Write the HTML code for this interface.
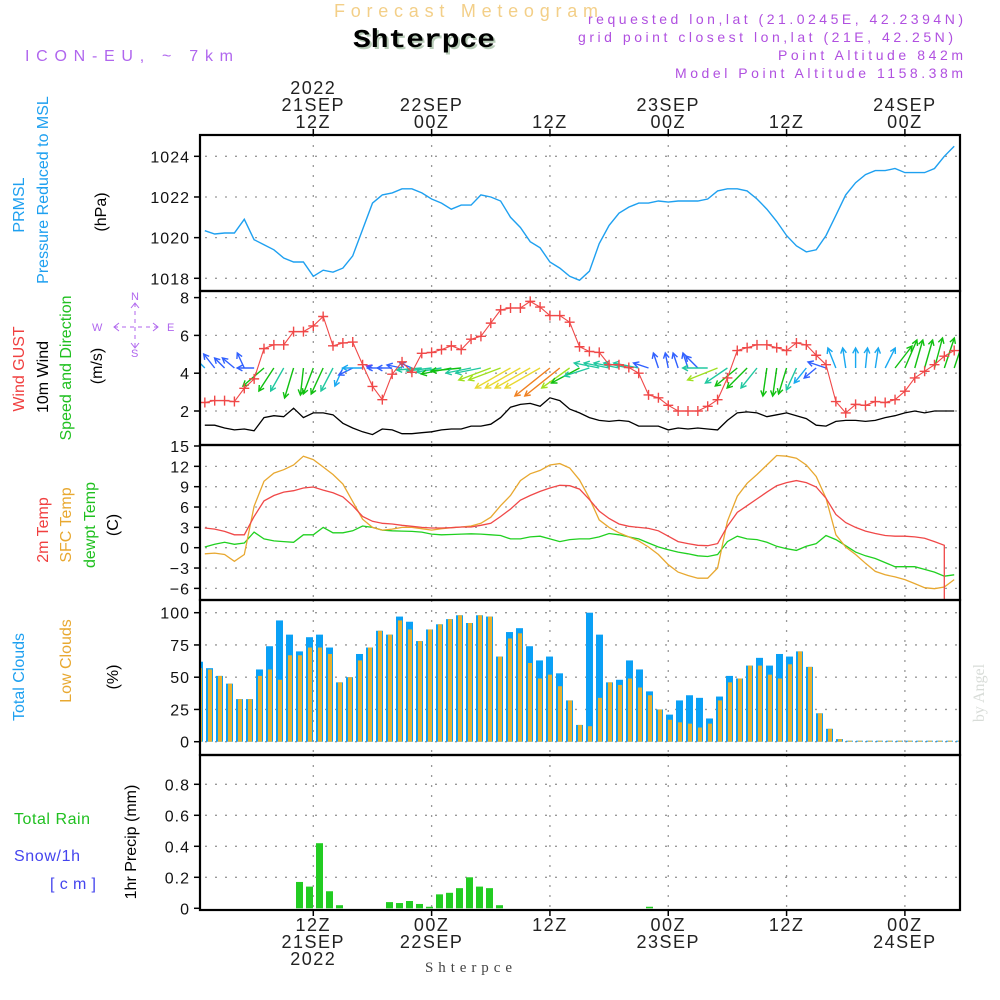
<!DOCTYPE html>
<html><head><meta charset="utf-8"><style>
html,body{margin:0;padding:0;background:#fff;}
svg{display:block;font-family:"Liberation Sans",sans-serif;}
</style></head><body>
<svg id="chart" width="1000" height="1000" viewBox="0 0 1000 1000" xmlns="http://www.w3.org/2000/svg">
<!-- header -->
<text x="334" y="17" font-size="18" fill="#f3cf88" textLength="264" lengthAdjust="spacing">Forecast Meteogram</text>
<text x="355" y="49" font-size="26" font-weight="bold" font-family="Liberation Mono,monospace" fill="#b8ccb8" textLength="142" lengthAdjust="spacingAndGlyphs">Shterpce</text>
<text x="353" y="47" font-size="26" font-weight="bold" font-family="Liberation Mono,monospace" fill="#000" textLength="142" lengthAdjust="spacingAndGlyphs">Shterpce</text>
<text x="25" y="61" font-size="16" fill="#b066ee" textLength="208" lengthAdjust="spacing">ICON-EU, ~ 7km</text>
<text x="588" y="24" font-size="14" fill="#b050e0" textLength="375" lengthAdjust="spacing">requested lon,lat (21.0245E, 42.2394N)</text>
<text x="578" y="42" font-size="14" fill="#b050e0" textLength="375" lengthAdjust="spacing">grid point closest lon,lat (21E, 42.25N)</text>
<text x="778" y="60" font-size="14" fill="#b050e0" textLength="185" lengthAdjust="spacing">Point Altitude 842m</text>
<text x="675" y="78" font-size="14" fill="#b050e0" textLength="288" lengthAdjust="spacing">Model Point Altitude 1158.38m</text>
<text transform="translate(984,693) rotate(-90)" text-anchor="middle" font-size="16" font-family="Liberation Serif,serif" fill="#d8dcd8">by Angel</text>
<text x="425" y="972" font-size="15" font-family="Liberation Serif,serif" fill="#444" textLength="87" lengthAdjust="spacing">Shterpce</text>

<!-- left labels -->
<g font-size="16">
<text transform="translate(24,205) rotate(-90)" text-anchor="middle" fill="#1ea0f0">PRMSL</text>
<text transform="translate(48,190) rotate(-90)" text-anchor="middle" fill="#1ea0f0">Pressure Reduced to MSL</text>
<text transform="translate(106,212) rotate(-90)" text-anchor="middle" fill="#000">(hPa)</text>
<text transform="translate(24,369) rotate(-90)" text-anchor="middle" fill="#f04040">Wind GUST</text>
<text transform="translate(48,377) rotate(-90)" text-anchor="middle" fill="#000">10m Wind</text>
<text transform="translate(71,368) rotate(-90)" text-anchor="middle" fill="#20c020">Speed and Direction</text>
<text transform="translate(102,366) rotate(-90)" text-anchor="middle" fill="#000">(m/s)</text>
<text transform="translate(48,530) rotate(-90)" text-anchor="middle" fill="#f04040">2m Temp</text>
<text transform="translate(71,525) rotate(-90)" text-anchor="middle" fill="#e8a830">SFC Temp</text>
<text transform="translate(95,525) rotate(-90)" text-anchor="middle" fill="#20c020">dewpt Temp</text>
<text transform="translate(118,525) rotate(-90)" text-anchor="middle" fill="#000">(C)</text>
<text transform="translate(24,677) rotate(-90)" text-anchor="middle" fill="#1ea0f0">Total Clouds</text>
<text transform="translate(71,661) rotate(-90)" text-anchor="middle" fill="#e8a830">Low Clouds</text>
<text transform="translate(118,677) rotate(-90)" text-anchor="middle" fill="#000">(%)</text>
<text x="14" y="824" fill="#20c020" textLength="76" lengthAdjust="spacing">Total  Rain</text>
<text x="14" y="861" fill="#4444ee" textLength="66" lengthAdjust="spacing">Snow/1h</text>
<text x="50" y="889" fill="#4444ee" textLength="46" lengthAdjust="spacing">[cm]</text>
<text transform="translate(136,842) rotate(-90)" text-anchor="middle" fill="#000">1hr Precip (mm)</text>
</g>
<!-- compass -->
<g fill="#b066ee" stroke="#b066ee" font-size="11">
<text x="131" y="300" stroke="none">N</text>
<text x="131" y="357" stroke="none">S</text>
<text x="92" y="331" stroke="none">W</text>
<text x="167" y="331" stroke="none">E</text>
<line x1="114" y1="327" x2="158" y2="327" stroke-dasharray="4 4" stroke-width="1"/>
<line x1="135" y1="303" x2="135" y2="348" stroke-dasharray="4 4" stroke-width="1"/>
<polyline points="119,323 114,327 119,331" fill="none"/>
<polyline points="153,323 158,327 153,331" fill="none"/>
<polyline points="131,308 135,303 139,308" fill="none"/>
<polyline points="131,343 135,348 139,343" fill="none"/>
</g>
<g id="plots"></g>
</svg>
<script>
// ---------- DATA (hourly, h = 1..77) ----------
const timeTicksHours = [12, 24, 36, 48, 60, 72];
const timeTickTop = [["2022","21SEP","12Z"],["22SEP","00Z"],["12Z"],["23SEP","00Z"],["12Z"],["24SEP","00Z"]];
const timeTickBottom = [["12Z","21SEP","2022"],["00Z","22SEP"],["12Z"],["00Z","23SEP"],["12Z"],["00Z","24SEP"]];
const pressureTicks = [1018, 1020, 1022, 1024];
const windTicks = [2, 4, 6, 8];
const tempTicks = [-6, -3, 0, 3, 6, 9, 12, 15];
const cloudTicks = [0, 25, 50, 75, 100];
const precipTicks = [0, 0.2, 0.4, 0.6, 0.8];

const pressure = [1020.34,1020.18,1020.23,1020.23,1020.9,1019.9,1019.65,1019.4,1019.0,1018.8,
1018.8,1018.1,1018.4,1018.3,1018.5,1019.1,1020.4,1021.7,1022.1,1022.2,
1022.4,1022.4,1022.2,1021.9,1021.7,1021.4,1021.6,1021.6,1022.1,1022.0,
1021.8,1021.0,1020.5,1019.8,1019.5,1018.8,1018.5,1018.1,1017.9,1018.35,
1019.7,1020.6,1021.2,1021.5,1021.7,1021.7,1021.8,1021.75,1021.8,1021.8,
1021.8,1021.9,1022.3,1022.4,1022.4,1022.3,1021.9,1021.4,1020.8,1020.1,
1019.6,1019.3,1019.4,1020.1,1021.1,1022.1,1022.7,1023.1,1023.3,1023.3,
1023.4,1023.2,1023.2,1023.2,1023.4,1024.0,1024.5];

const windGust = [2.45,2.55,2.55,2.5,3.2,3.7,5.3,5.5,5.5,6.2,
6.2,6.5,7.0,5.45,5.6,5.65,4.45,3.3,2.6,3.95,
4.6,4.05,5.05,5.1,5.25,5.45,5.25,5.8,5.95,6.65,
7.35,7.45,7.45,7.8,7.5,7.05,7.05,6.7,5.4,5.15,
5.1,4.45,4.45,4.3,4.0,2.85,2.7,2.3,2.0,2.0,
2.0,2.25,2.6,3.75,5.2,5.35,5.5,5.5,5.35,5.2,
5.6,5.5,4.95,4.45,2.5,1.9,2.35,2.3,2.5,2.45,
2.6,3.05,3.75,4.1,4.45,4.9,5.2];

const wind10m = [1.25,1.25,1.1,1.0,1.05,0.95,1.65,1.75,1.7,2.15,
1.65,1.9,1.9,1.8,1.35,1.1,0.9,0.75,1.05,1.0,
0.8,0.8,0.85,0.9,1.0,1.05,1.05,1.2,1.2,1.3,
1.65,2.2,2.35,2.4,2.25,2.7,2.55,2.1,1.9,1.65,
1.5,1.45,1.5,1.45,1.2,1.2,1.2,1.0,1.1,1.05,
1.1,1.05,1.0,1.5,1.9,1.95,1.9,1.7,1.8,1.9,
1.75,1.6,1.25,1.2,1.45,1.5,1.5,1.45,1.5,1.65,
1.75,1.9,2.0,1.9,2.0,2.0,2.0];

// wind arrow components (east, north)
const windU = [-15,-11,-10,-12,-7,-17,-21,-15,-13,-9,
-3,-10,-12,-12,-8,-14,-20,-6,-15,-15,
-15,-12,-25,-25,-25,-30,-30,-25,-25,-32,
-32,-35,-35,-35,-35,-35,-35,-28,-28,-25,
-25,-25,-25,-25,-25,-15,-5,-3,-5,-5,
-12,-25,-30,-22,-22,-20,-16,-4,-4,-8,
-10,-12,-12,-18,-8,-3,0,2,3,10,
17,12,8,8,8,10,10];
const windV = [15,14,10,10,15,0,-18,-23,-23,-30,
-27,-26,-26,-23,-18,-7,0,2,0,0,
3,5,-2,-3,-4,-6,-3,-5,-5,-12,
-12,-20,-20,-20,-20,-28,-28,-20,-15,-8,
5,5,5,5,5,5,15,15,15,15,
12,0,-12,-15,-18,-20,-20,-28,-28,-26,
-22,-15,-10,6,20,20,20,20,20,20,
22,28,28,28,30,30,30];

const temp2m = [2.9,2.75,2.4,1.9,1.9,4.6,6.9,7.7,8.2,8.4,
8.8,8.95,8.5,8.1,7.5,6.2,4.6,3.9,3.6,3.5,
3.3,3.15,3.0,2.9,2.9,2.95,3.05,3.05,3.3,3.6,
4.6,5.7,7.0,7.7,8.3,8.8,9.2,9.15,8.65,7.1,
5.4,4.3,3.5,3.15,3.0,2.85,2.5,1.7,0.9,0.6,
0.35,0.3,0.6,3.15,5.2,6.2,7.2,8.2,9.15,9.6,
9.9,9.6,8.95,7.3,4.9,3.7,3.0,2.45,2.1,1.8,
1.7,1.7,1.6,1.4,0.9,0.35];
const tempSfc = [-0.9,-0.8,-1.0,-2.0,-1.0,6.1,9.8,11.0,11.5,12.2,
13.5,13.0,11.9,10.8,9.4,6.8,4.2,3.0,2.6,2.75,
3.0,3.0,2.8,2.6,2.8,2.95,3.05,3.2,3.6,4.5,
6.2,7.7,9.9,10.9,11.4,12.2,12.4,11.75,10.0,7.3,
4.1,3.0,2.2,1.6,1.0,0.1,-1.0,-2.5,-3.6,-4.1,
-4.5,-4.5,-3.0,3.9,7.6,9.5,10.8,12.2,13.6,13.5,
13.2,12.2,10.5,7.3,1.9,0.1,-1.0,-2.3,-3.5,-4.0,
-4.3,-4.7,-5.3,-5.9,-6.05,-5.8,-4.7];
const tempDew = [0.1,0.5,0.8,0.5,0.7,2.3,1.3,1.0,0.9,0.8,
1.9,1.9,3.0,2.2,2.2,2.5,3.2,3.0,2.6,2.5,
2.45,2.4,2.3,2.0,1.9,1.95,2.0,2.05,2.0,1.9,
1.8,1.3,1.3,1.6,1.7,1.3,0.9,1.2,1.3,1.3,
1.6,2.1,1.9,1.6,1.3,0.7,0.1,-0.3,-0.65,-0.9,
-1.2,-1.3,-1.0,0.9,1.7,1.3,1.2,0.8,0.2,-0.15,
-0.4,0.2,0.6,1.8,1.2,0.3,-0.65,-1.2,-1.6,-2.2,
-2.8,-2.8,-2.8,-3.2,-3.6,-4.2,-4.0];

// bar series, index k = 0..76
const cloudTotal = [62,57,51,45,33,33,56,74,94,83,
70,81,83,73,46,50,68,73,86,83,
97,93,78,87,91,95,98,92,98,97,
66,85,88,74,63,66,53,32,13,100,
83,46,48,63,56,39,25,21,32,36,
34,18,35,51,49,59,65,59,68,66,
70,58,22,10,2,0,0,0,0,0,0,0,0,0,0,0,0];
const cloudLow = [57,56,51,45,33,33,51,56,48,67,
67,73,73,68,46,50,63,73,86,83,
94,87,78,87,91,95,98,92,98,97,
66,80,84,61,49,52,43,32,13,12,
34,46,44,49,42,36,25,17,15,14,
11,14,32,46,49,59,59,52,49,60,
70,58,22,10,2,0,0,0,0,0,0,0,0,0,0,0,0];
const precip = [0,0,0,0,0,0,0,0,0,0,
0.17,0.14,0.42,0.11,0.02,0,0,0,0,0.04,
0.034,0.047,0.028,0.01,0.09,0.1,0.13,0.2,0.14,0.13,
0.02,0,0,0,0,0,0,0,0,0,
0,0,0,0,0,0.01,0,0,0,0,
0,0,0,0,0,0,0,0,0,0,
0,0,0,0,0,0,0,0,0,0,0,0,0,0,0,0,0];

// ---------- LAYOUT / SCALES ----------
const NS = "http://www.w3.org/2000/svg";
const L = 200, R = 960;
const panels = {
  pres:{top:135,bot:291}, wind:{top:291,bot:445}, temp:{top:445,bot:600},
  cloud:{top:600,bot:755}, prec:{top:755,bot:910}
};
const xH = h => 313.3 + (h - 12) * 9.86;          // hour -> x
const xBar = k => 196 + 10 * k;                     // bar index -> left x
const yPres = p => 278.3 - (p - 1018) * 20.33;
const yWind = v => 411 - (v - 2) * 18.9;
const yTemp = t => 547.7 - t * 6.78;
const yCloud = c => 741.7 - c * 1.29;
const yPrec = p => 908.3 - p * 155;

const root = document.getElementById('plots');
function mk(tag, attrs, parent) {
  const e = document.createElementNS(NS, tag);
  for (const k in attrs) e.setAttribute(k, attrs[k]);
  (parent || root).appendChild(e);
  return e;
}
function clipFor(id, p) {
  const c = mk('clipPath', {id: id});
  mk('rect', {x: L, y: p.top, width: R - L, height: p.bot - p.top}, c);
}
Object.keys(panels).forEach(k => clipFor('clip-' + k, panels[k]));

// grids
function grid(p, ticks, yf, name) {
  const g = mk('g', {stroke: '#999', 'stroke-width': 1.3, 'stroke-dasharray': '2 8'});
  
  
  ticks.forEach(t => {
    const y = yf(t);
    if (y > p.top + 3 && y < p.bot - 3) mk('line', {x1: L + 5, x2: R, y1: y, y2: y}, g);
  });
  timeTicksHours.forEach(h => mk('line', {x1: xH(h), x2: xH(h), y1: p.top, y2: p.bot}, g));
}
grid(panels.pres, pressureTicks, yPres, 'pressure');
grid(panels.wind, windTicks, yWind, 'wind');
grid(panels.temp, tempTicks, yTemp, 'temp');
grid(panels.cloud, cloudTicks, yCloud, 'cloud');
grid(panels.prec, precipTicks, yPrec, 'precip');

// y tick labels
function yAxis(ticks, yf, fmt, name) {
  const g = mk('g', {'font-size': 16, fill: '#111', 'text-anchor': 'end'});
  
  
  ticks.forEach(t => {
    const y = yf(t);
    mk('line', {x1: 194, x2: L, y1: y, y2: y, stroke: '#000', 'stroke-width': 1.5}, g);
    const tx = mk('text', {x: 190, y: y + 6, 'letter-spacing': '1'}, g);
    tx.textContent = fmt(t);
  });
}
yAxis(pressureTicks, yPres, t => String(t), 'pressure');
yAxis(windTicks, yWind, t => String(t), 'wind');
yAxis(tempTicks, yTemp, t => (t < 0 ? '\u2212' + (-t) : String(t)), 'temp');
yAxis(cloudTicks, yCloud, t => String(t), 'cloud');
yAxis(precipTicks, yPrec, t => (t === 0 ? '0' : t.toFixed(1)), 'precip');

// time axis labels
const topG = mk('g', {'font-size': 18, fill: '#222', 'text-anchor': 'middle', 'letter-spacing': '1.5'});


timeTicksHours.forEach((h, i) => {
  const lines = timeTickTop[i];
  lines.forEach((s, j) => {
    const t = mk('text', {x: xH(h), y: 128 - (lines.length - 1 - j) * 17}, topG);
    t.textContent = s;
  });
  mk('line', {x1: xH(h), x2: xH(h), y1: 129, y2: 135, stroke: '#000', 'stroke-width': 1.5}, topG);
});
const botG = mk('g', {'font-size': 18, fill: '#222', 'text-anchor': 'middle', 'letter-spacing': '1.5'});


timeTicksHours.forEach((h, i) => {
  timeTickBottom[i].forEach((s, j) => {
    const t = mk('text', {x: xH(h), y: 931 + j * 17}, botG);
    t.textContent = s;
  });
  mk('line', {x1: xH(h), x2: xH(h), y1: 910, y2: 916, stroke: '#000', 'stroke-width': 1.5}, botG);
});

function pathFrom(arr, yf) {
  return arr.map((v, i) => (i ? 'L' : 'M') + xH(i + 1).toFixed(1) + ',' + yf(v).toFixed(1)).join('');
}

// pressure
const pl = mk('path', {d: pathFrom(pressure, yPres), fill: 'none', stroke: '#1ea0f0', 'stroke-width': 1.4, 'clip-path': 'url(#clip-pres)'});



// wind arrows
const wg = mk('g', {'clip-path': 'url(#clip-wind)', 'stroke-width': 1.4, fill: 'none'});


function arrowColor(len) {
  if (len < 13) return '#8040e0';
  if (len < 19) return '#3060ff';
  if (len < 23) return '#18a8f0';
  if (len < 27) return '#20c8a0';
  if (len < 32) return '#10c010';
  if (len < 37) return '#a0e020';
  if (len < 42) return '#e8d830';
  return '#f08020';
}
const baseY = 368;
windU.forEach((u, i) => {
  const v = windV[i];
  const x0 = xH(i + 1), x1 = x0 + u, y1 = baseY - v;
  const len = Math.hypot(u, v);
  const col = arrowColor(len);
  const a = Math.atan2(y1 - baseY, x1 - x0);
  const hl = 6, sp = 0.5;
  const ag = mk('g', {stroke: col}, wg);
  
  
  mk('line', {x1: x0, y1: baseY, x2: x1, y2: y1}, ag);
  mk('polyline', {points: [
    (x1 - hl * Math.cos(a - sp)).toFixed(1) + ',' + (y1 - hl * Math.sin(a - sp)).toFixed(1),
    x1.toFixed(1) + ',' + y1.toFixed(1),
    (x1 - hl * Math.cos(a + sp)).toFixed(1) + ',' + (y1 - hl * Math.sin(a + sp)).toFixed(1)].join(' ')}, ag);
});

// 10m wind
const w10 = mk('path', {d: pathFrom(wind10m, yWind), fill: 'none', stroke: '#000', 'stroke-width': 1.3, 'clip-path': 'url(#clip-wind)'});


// gust
const gg = mk('g', {'clip-path': 'url(#clip-wind)', stroke: '#f04848', fill: 'none'});


mk('path', {d: pathFrom(windGust, yWind), 'stroke-width': 1.1}, gg);
windGust.forEach((v, i) => {
  const x = xH(i + 1), y = yWind(v);
  const m = mk('path', {d: `M${x - 5},${y}H${x + 5}M${x},${y - 5}V${y + 5}`, 'stroke-width': 1.4}, gg);
  
  
});

// temperatures
const tg = mk('g', {'clip-path': 'url(#clip-temp)', fill: 'none', 'stroke-width': 1.3});


const lDew = mk('path', {d: pathFrom(tempDew, yTemp), stroke: '#20d020'}, tg);


const lSfc = mk('path', {d: pathFrom(tempSfc, yTemp), stroke: '#e8a830'}, tg);


const lastT = temp2m.length;
const l2m = mk('path', {d: pathFrom(temp2m, yTemp) + 'L' + xH(lastT).toFixed(1) + ',' + (panels.temp.bot + 5), stroke: '#f04848'}, tg);



// clouds
const cg = mk('g', {'clip-path': 'url(#clip-cloud)'});


cloudTotal.forEach((c, k) => {
  const x = xBar(k), y0 = yCloud(0);
  const yT = Math.min(yCloud(c), y0 - 1), yL = Math.min(yCloud(cloudLow[k]), y0 - 1);
  const b = mk('rect', {x: x, y: yT, width: 7, height: y0 - yT, fill: '#0aa0f5'}, cg);
  
  
  const o = mk('rect', {x: x + 2, y: yL, width: 4, height: y0 - yL, fill: '#e8b030'}, cg);
  
  
});

// precip
const pg = mk('g', {'clip-path': 'url(#clip-prec)'});


precip.forEach((p, k) => {
  if (p <= 0) return;
  const y = yPrec(p), y0 = yPrec(0);
  const b = mk('rect', {x: xBar(k), y: y, width: 7, height: Math.max(1, y0 - y), fill: '#22cc22'}, pg);
  
  
});

// frames
const fg = mk('g', {fill: 'none', stroke: '#000', 'stroke-width': 2.2});


Object.keys(panels).forEach(k => {
  const p = panels[k];
  mk('rect', {x: L, y: p.top, width: R - L, height: p.bot - p.top}, fg);
});
</script>
</body></html>
